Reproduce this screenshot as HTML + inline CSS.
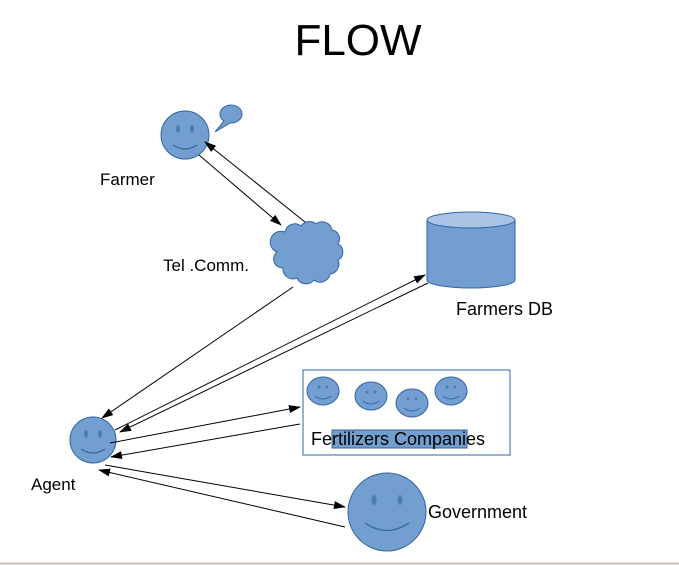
<!DOCTYPE html>
<html><head><style>body{margin:0;background:#fff}svg{display:block}</style></head><body>
<svg width="679" height="565" xmlns="http://www.w3.org/2000/svg" font-family="Liberation Sans, sans-serif">
<defs>
<marker id="a" markerWidth="12" markerHeight="8" refX="11" refY="4" orient="auto" markerUnits="userSpaceOnUse"><path d="M0,0 L12,4 L0,8 z" fill="#000"/></marker>
</defs>
<rect x="0" y="0" width="679" height="565" fill="#fff"/>
<text x="358" y="55" font-size="44" text-anchor="middle">FLOW</text>
<!-- farmer -->
<circle cx="185" cy="135" r="24" fill="#729fcf" stroke="#3465a4"/>
<ellipse cx="178" cy="129" rx="2" ry="4" fill="#3465a4" opacity=".6"/><ellipse cx="192" cy="129" rx="2" ry="4" fill="#3465a4" opacity=".6"/>
<path d="M173,145 Q185,153 197,145" fill="none" stroke="#3465a4" stroke-width="1.2"/>
<path d="M224,121 L215,132 L230,123 A11,9 0 1 0 224,121 z" fill="#729fcf" stroke="#3465a4"/>
<text x="100" y="185" font-size="17">Farmer</text>
<!-- cloud -->
<g fill="#729fcf" stroke="#3465a4">
<path d="M285,232 a10,10 0 0 1 16,-6 a10,10 0 0 1 15,-2 a10,10 0 0 1 16,6 a9,9 0 0 1 6,14 a9,9 0 0 1 0,16 a10,10 0 0 1 -8,14 a10,10 0 0 1 -16,6 a10,10 0 0 1 -17,-2 a10,10 0 0 1 -14,-10 a9,9 0 0 1 -6,-16 a9,9 0 0 1 8,-20 z"/>
</g>
<text x="163" y="271" font-size="17">Tel .Comm.</text>
<!-- DB -->
<path d="M427,220 V280 A44,8 0 0 0 515,280 V220" fill="#729fcf" stroke="#3465a4"/>
<ellipse cx="471" cy="220" rx="44" ry="8" fill="#a9c4e4" stroke="#3465a4"/>
<text x="456" y="315" font-size="18">Farmers DB</text>
<!-- box -->
<rect x="303" y="370" width="207" height="85" fill="#fff" stroke="#3465a4"/>
<g fill="#729fcf" stroke="#3465a4">
<ellipse cx="323" cy="391" rx="16" ry="14"/><ellipse cx="371" cy="396" rx="16" ry="14"/><ellipse cx="412" cy="403" rx="16" ry="14"/><ellipse cx="451" cy="391" rx="16" ry="14"/>
</g>
<g fill="none" stroke="#3465a4"><path d="M315,396 Q323,402 331,396"/><path d="M363,401 Q371,407 379,401"/><path d="M404,408 Q412,414 420,408"/><path d="M443,396 Q451,402 459,396"/></g>
<g fill="#3465a4" opacity=".6"><circle cx="319" cy="387" r="1.5"/><circle cx="327" cy="387" r="1.5"/><circle cx="367" cy="392" r="1.5"/><circle cx="375" cy="392" r="1.5"/><circle cx="408" cy="399" r="1.5"/><circle cx="416" cy="399" r="1.5"/><circle cx="447" cy="387" r="1.5"/><circle cx="455" cy="387" r="1.5"/></g>
<rect x="332" y="430" width="135" height="18" fill="#729fcf" stroke="#3465a4"/>
<text x="311" y="445" font-size="18">Fertilizers Companies</text>
<!-- agent -->
<circle cx="93" cy="440" r="23" fill="#729fcf" stroke="#3465a4"/>
<ellipse cx="86" cy="434" rx="2" ry="4" fill="#3465a4" opacity=".6"/><ellipse cx="100" cy="434" rx="2" ry="4" fill="#3465a4" opacity=".6"/>
<path d="M81,449 Q93,457 105,449" fill="none" stroke="#3465a4" stroke-width="1.2"/>
<text x="31" y="490" font-size="17">Agent</text>
<!-- gov -->
<circle cx="387" cy="512" r="39" fill="#729fcf" stroke="#3465a4"/>
<ellipse cx="374" cy="500" rx="2.5" ry="5" fill="#3465a4" opacity=".6"/><ellipse cx="400" cy="500" rx="2.5" ry="5" fill="#3465a4" opacity=".6"/>
<path d="M365,523 Q387,538 409,523" fill="none" stroke="#3465a4" stroke-width="1.2"/>
<text x="428" y="518" font-size="18">Government</text>
<!-- arrows -->
<g stroke="#000" stroke-width="1" marker-end="url(#a)">
<line x1="199" y1="155" x2="281" y2="225"/>
<line x1="305" y1="222" x2="205" y2="142"/>
<line x1="293" y1="287" x2="102" y2="418"/>
<line x1="115" y1="430" x2="425" y2="275"/>
<line x1="428" y1="283" x2="120" y2="432"/>
<line x1="110" y1="443" x2="300" y2="407"/>
<line x1="300" y1="424" x2="111" y2="457"/>
<line x1="105" y1="465" x2="345" y2="507"/>
<line x1="345" y1="527" x2="99" y2="470"/>
</g>
<line x1="0" y1="563.5" x2="679" y2="563.5" stroke="#c8c0b8" stroke-width="2"/>
</svg>
</body></html>
